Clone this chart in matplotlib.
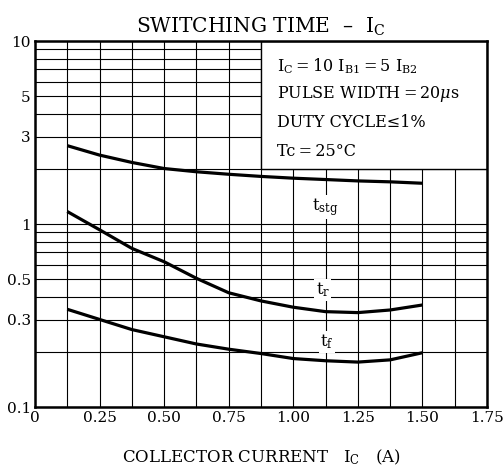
import numpy as np
import matplotlib.pyplot as plt
import matplotlib.ticker as ticker

plt.rcParams['font.family'] = 'DejaVu Serif'
plt.rcParams['mathtext.fontset'] = 'dejavuserif'

# collector current (A)
ic = [0.125, 0.25, 0.375, 0.5, 0.625, 0.75, 0.875, 1.0, 1.125, 1.25, 1.375, 1.5]
# switching times (us)
t_stg = [2.68, 2.38, 2.17, 2.01, 1.93, 1.87, 1.82, 1.78, 1.75, 1.72, 1.70, 1.67]
t_r = [1.17, 0.93, 0.736, 0.622, 0.505, 0.421, 0.38, 0.351, 0.332, 0.328, 0.339, 0.361]
t_f = [0.342, 0.301, 0.265, 0.242, 0.221, 0.207, 0.196, 0.184, 0.179, 0.176, 0.181, 0.198]

x_ticks = [0, 0.25, 0.50, 0.75, 1.00, 1.25, 1.50, 1.75]
x_labels = ["0", "0.25", "0.50", "0.75", "1.00", "1.25", "1.50", "1.75"]
y_ticks = [0.1, 0.3, 0.5, 1, 3, 5, 10]
y_labels = ["0.1", "0.3", "0.5", "1", "3", "5", "10"]

fig = plt.figure(figsize=(5.04, 4.73), dpi=100)
ax = fig.add_axes([0.0694, 0.1395, 0.8969, 0.7738])

ax.set_yscale("log")
ax.set_xlim(0, 1.75)
ax.set_ylim(0.1, 10)

# grid
ax.set_xticks(x_ticks)
ax.set_xticklabels(x_labels)
ax.set_xticks(np.arange(0.125, 1.75, 0.25), minor=True)
ax.set_yticks(y_ticks)
ax.set_yticklabels(y_labels)
ax.set_yticks([0.2, 0.4, 0.6, 0.7, 0.8, 0.9, 2, 4, 6, 7, 8, 9], minor=True)
ax.yaxis.set_minor_formatter(ticker.NullFormatter())
ax.grid(which="both", color="black", linewidth=0.8)
ax.tick_params(which="both", length=0, labelsize=11, pad=3)
for s in ax.spines.values():
    s.set_linewidth(1.8)

# curves
for y in (t_stg, t_r, t_f):
    ax.plot(ic, y, color="black", linewidth=2.3, zorder=3, solid_capstyle="butt")

# curve labels
lbl = dict(ha="center", va="center", fontsize=12, zorder=4,
           bbox=dict(facecolor="white", edgecolor="none", pad=1.0))
ax.text(1.125, 1.24, r"t$_\mathrm{stg}$", **lbl)
ax.text(1.115, 0.436, r"t$_\mathrm{r}$", **lbl)
ax.text(1.13, 0.227, r"t$_\mathrm{f}$", **lbl)

# conditions box
ax.fill_between([0.875, 1.75], 2, 10, facecolor="white", edgecolor="black",
                linewidth=1.0, zorder=2.5)
cond = [r"I$_\mathrm{C}$ = 10 I$_\mathrm{B1}$ = 5 I$_\mathrm{B2}$",
        r"PULSE WIDTH = 20$\mu$s",
        "DUTY CYCLE ≤ 1%",
        "Tc = 25°C"]
for i, s in enumerate(cond):
    ax.text(0.535, 0.932 - i * 0.078, s.replace(" = ", "\u2009=\u2009").replace(" ≤ ", "≤"),
            transform=ax.transAxes, fontsize=11.5, va="center", ha="left", zorder=4)

ax.set_title(r"SWITCHING TIME  –  I$_\mathrm{C}$", fontsize=14.5, pad=6)
ax.set_xlabel(r"COLLECTOR CURRENT   I$_\mathrm{C}$   (A)", fontsize=12, labelpad=16)

fig.savefig("out.png", dpi=100)
